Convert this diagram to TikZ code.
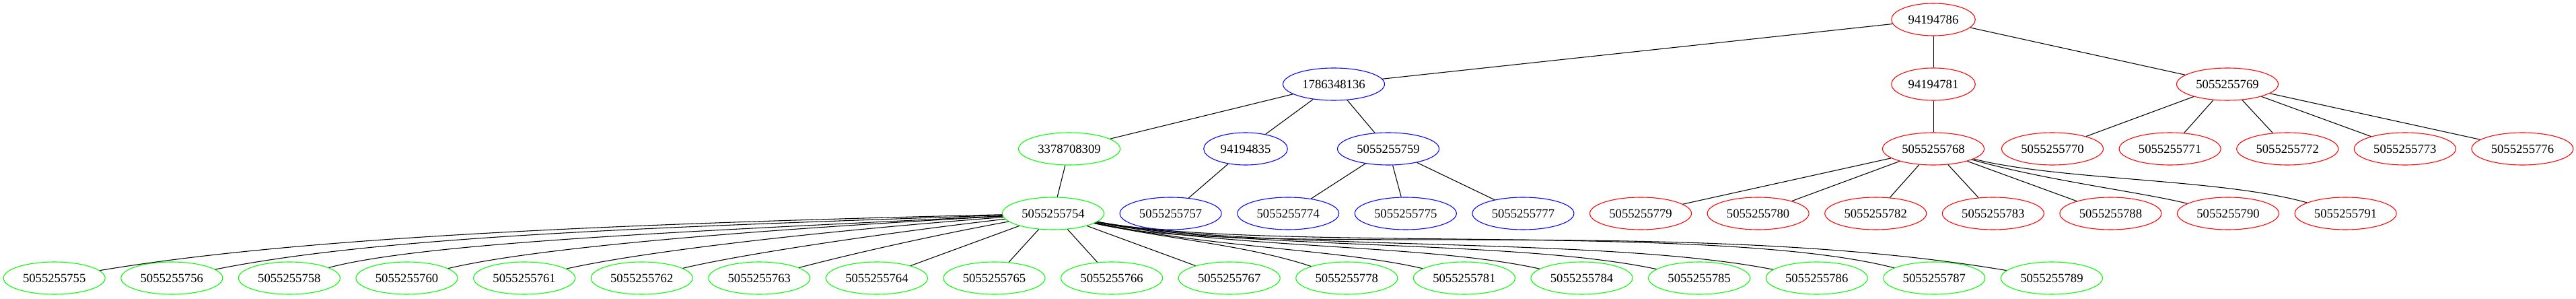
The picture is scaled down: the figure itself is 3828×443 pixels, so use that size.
\documentclass[tikz,border=0pt]{standalone}
\usepackage{fontspec}
\setmainfont{Liberation Serif}
\usetikzlibrary{shapes.geometric}

\begin{document}
\begin{tikzpicture}[x=0.75pt,y=0.75pt,line width=0.8pt,
  every node/.style={ellipse,draw,line width=0.8pt,inner xsep=5.04pt,inner ysep=2pt,
    minimum height=36pt,font=\fontsize{14pt}{16pt}\selectfont}]
\useasboundingbox (0,0) rectangle (3828,443);
% Upper rows
\node[draw=red] (n94194786) at (2873,414) {94194786};
\node[draw=blue] (n1786348136) at (1982,318) {1786348136};
\node[draw=red] (n94194781) at (2873,318) {94194781};
\node[draw=red] (v69) at (3310,318) {5055255769};
\node[draw=green] (n3378708309) at (1589,222) {3378708309};
\node[draw=blue] (n94194835) at (1851,222) {94194835};
\node[draw=blue] (v59) at (2063,222) {5055255759};
\node[draw=red] (v68) at (2873,222) {5055255768};
\foreach \k [count=\j from 0] in {70,71,72,73,76}
  \node[draw=red] (v\k) at ({3050+174.6*\j},222) {50552557\k};
% Fourth row
\foreach \k/\col [count=\j from 0] in {54/green,57/blue,74/blue,75/blue,77/blue,
    79/red,80/red,82/red,83/red,88/red,90/red,91/red}
  \node[draw=\col] (v\k) at ({1565+174.6*\j},126) {50552557\k};
% Bottom row
\foreach \k [count=\i from 0] in {55,56,58,60,61,62,63,64,65,66,67,78,81,84,85,86,87,89}
  \node[draw=green] (v\k) at ({80.7+174.6*\i},30) {50552557\k};
% Straight edges
\draw (n94194786) -- (n1786348136);
\draw (n94194786) -- (n94194781);
\draw (n94194786) -- (v69);
\draw (n1786348136) -- (n3378708309);
\draw (n1786348136) -- (n94194835);
\draw (n1786348136) -- (v59);
\draw (n94194781) -- (v68);
\draw (n3378708309) -- (v54);
\draw (n94194835) -- (v57);
\foreach \k in {70,71,72,73,76} \draw (v69) -- (v\k);
\foreach \k in {74,75,77} \draw (v59) -- (v\k);
\foreach \k in {79,80,82,83,88} \draw (v68) -- (v\k);
\foreach \k in {64,65,66,67} \draw (v54) -- (v\k);
% Curved edges to the left
\draw (v54) .. controls (891,110.4) and (432,89) .. (v55);
\draw (v54) .. controls (971,105.7) and (565,92.1) .. (v56);
\draw (v54) .. controls (1042,100.4) and (630.5,83.3) .. (v58);
\draw (v54) .. controls (1140,102.7) and (805.7,77.2) .. (v60);
\draw (v54) .. controls (1230,100.8) and (962.6,70.8) .. (v61);
\draw (v54) .. controls (1306,96) and (1098,64.7) .. (v62);
\draw (v54) .. controls (1384,93) and (1263,65.4) .. (v63);
% Curved edges to the right
\draw (v54) .. controls (1726,89) and (1850,80) .. (v78);
\draw (v54) .. controls (1800,75) and (1990,73) .. (v81);
\draw (v54) .. controls (1830,73) and (2120,81) .. (v84);
\draw (v54) .. controls (1850,71) and (2250,88) .. (v85);
\draw (v54) .. controls (1870,69) and (2380,93) .. (v86);
\draw (v54) .. controls (1880,67) and (2550,113) .. (v87);
\draw (v54) .. controls (1850,58) and (2500,123) .. (v89);
\draw (v68) .. controls (3040,175) and (3180,158) .. (v90);
\draw (v68) .. controls (3060,175) and (3300,178) .. (v91);
\end{tikzpicture}
\end{document}
